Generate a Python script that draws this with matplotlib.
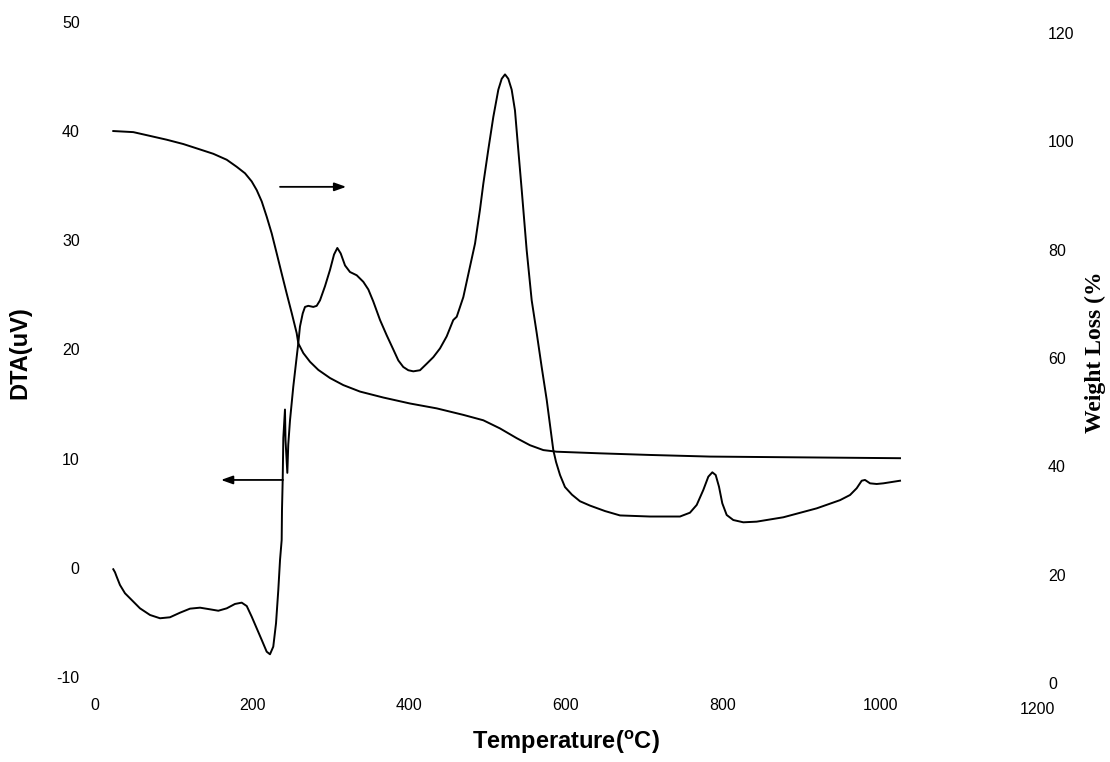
import matplotlib
matplotlib.use("Agg")
import matplotlib.pyplot as plt
import matplotlib.transforms as mtransforms

# ---- data ----
tg_temp = [23.3, 36.1, 48.8, 70.1, 91.3, 112.5, 133.8, 150.7, 167.8, 180.5, 191.1,
           199.6, 206.0, 212.4, 218.7, 225.1, 231.5, 237.8, 244.2, 250.6, 256.9,
           259.0, 265.4, 273.9, 284.5, 299.4, 316.3, 337.6, 367.3, 401.3, 435.3,
           469.2, 494.7, 515.9, 537.2, 554.1, 571.1, 588.1, 643.3, 707.0, 783.4,
           1025.5]
tg_weight = [101.9, 101.8, 101.7, 101.0, 100.3, 99.5, 98.5, 97.7, 96.6, 95.3, 94.1,
             92.6, 91.0, 88.9, 86.1, 83.0, 79.3, 75.6, 71.9, 68.3, 64.6,
             62.7, 60.9, 59.3, 57.8, 56.3, 55.0, 53.8, 52.7, 51.6, 50.7,
             49.5, 48.5, 47.0, 45.2, 43.9, 43.0, 42.7, 42.4, 42.1, 41.8,
             41.5]

dta_temp = [23.3, 25.5, 27.6, 31.8, 38.2, 46.8, 57.3, 70.1, 82.8, 95.5, 108.3,
            121.0, 133.8, 146.5, 157.1, 167.8, 178.3, 186.9, 193.3, 199.6, 206.0,
            212.4, 218.7, 222.9, 227.1, 230.6, 233.5, 235.7, 237.8, 238.2, 239.1,
            239.9, 242.0, 242.7, 245.0, 246.2, 248.4, 252.6, 256.9, 259.0, 261.1,
            264.6, 267.5, 271.7, 278.1, 282.4, 286.6, 293.0, 299.4, 304.5, 308.7,
            313.0, 318.5, 324.8, 333.4, 341.8, 348.2, 354.5, 363.1, 371.6, 380.0,
            386.4, 392.7, 399.1, 405.5, 414.0, 422.6, 431.0, 439.5, 448.0, 456.4,
            460.8, 469.2, 477.7, 484.1, 490.4, 494.7, 501.0, 507.4, 513.8, 518.1,
            522.3, 526.5, 530.8, 535.0, 539.2, 543.6, 549.9, 556.3, 562.7, 569.0,
            575.4, 579.6, 583.8, 587.3, 592.4, 598.7, 607.6, 617.8, 630.6, 649.7,
            668.8, 707.0, 745.2, 757.9, 766.5, 774.9, 781.3, 786.4, 790.7, 794.9,
            799.1, 804.7, 813.1, 825.9, 842.9, 876.8, 919.4, 949.1, 961.8, 970.3,
            976.7, 980.9, 987.3, 995.8, 1004.2, 1025.5]
dta_signal = [-0.13, -0.41, -0.81, -1.57, -2.33, -2.95, -3.71, -4.32, -4.62, -4.53, -4.11,
              -3.74, -3.65, -3.80, -3.93, -3.71, -3.31, -3.19, -3.50, -4.47, -5.54,
              -6.61, -7.68, -7.92, -7.22, -5.08, -2.03, 0.72, 2.55, 5.3, 8.05,
              11.9, 14.5, 11.7, 8.7, 11.3, 13.5, 16.6, 19.3, 20.6, 22.1,
              23.3, 23.9, 24.0, 23.9, 24.0, 24.5, 25.8, 27.3, 28.7, 29.3,
              28.8, 27.7, 27.1, 26.8, 26.2, 25.5, 24.4, 22.7, 21.3, 20.0,
              19.0, 18.4, 18.1, 18.0, 18.1, 18.7, 19.3, 20.1, 21.2, 22.7,
              23.0, 24.8, 27.6, 29.7, 32.8, 35.2, 38.3, 41.3, 43.8, 44.8,
              45.2, 44.8, 43.8, 41.9, 38.3, 34.6, 29.1, 24.5, 21.5, 18.4,
              15.4, 13.1, 10.8, 9.7, 8.5, 7.4, 6.7, 6.1, 5.7, 5.2,
              4.8, 4.7, 4.7, 5.05, 5.76, 7.13, 8.35, 8.75, 8.50, 7.43,
              5.91, 4.84, 4.38, 4.17, 4.23, 4.63, 5.45, 6.2, 6.67, 7.29,
              7.98, 8.05, 7.74, 7.68, 7.74, 7.98]

x_ticks = [0, 200, 400, 600, 800, 1000]
left_ticks = [-10, 0, 10, 20, 30, 40, 50]
right_ticks = [0, 20, 40, 60, 80, 100, 120]

W, H = 1110, 762
fig = plt.figure(figsize=(W / 100, H / 100), dpi=100)
ax = fig.add_axes([95 / W, 1 - 683 / H, (1037 - 95) / W, (683 - 22) / H])
ax2 = ax.twinx()

sans = "Liberation Sans"
serif = "Liberation Serif"

ax.plot(dta_temp, dta_signal, color="black", lw=1.4, solid_joinstyle="round")
ax2.plot(tg_temp, tg_weight, color="black", lw=1.4, solid_joinstyle="round")

ax.set_xlim(0, 1200)
ax.set_ylim(-10.55, 50)
ax2.set_ylim(0, 122.03)

for a in (ax, ax2):
    for s in a.spines.values():
        s.set_visible(False)
    a.set_facecolor("none")

ax.set_xticks(x_ticks)
ax.set_xticklabels([str(t) for t in x_ticks], fontfamily=sans, fontsize=11.5)
ax.set_yticks(left_ticks)
ax.set_yticklabels([str(t) for t in left_ticks], fontfamily=sans, fontsize=11.5)
ax2.set_yticks(right_ticks)
ax2.set_yticklabels([str(t) for t in right_ticks], fontfamily=sans, fontsize=11.5)
ax.tick_params(axis="x", length=0, pad=11)
ax.tick_params(axis="y", length=0, pad=11)
ax2.tick_params(axis="y", length=0, pad=8)

# extra "1200" label slightly lower, as in the reference
trans = mtransforms.blended_transform_factory(ax.transData, ax.transAxes)
ax.annotate("1200", xy=(1200, 0), xycoords=trans, xytext=(0, -19),
            textcoords="offset points", ha="center", va="center",
            fontfamily=sans, fontsize=11.5)

ax.set_xlabel("Temperature($\\mathregular{^{o}}$C)", fontfamily=sans,
              fontsize=17, fontweight="bold", labelpad=11)
ax.set_ylabel("DTA(uV)", fontfamily=sans, fontsize=17, fontweight="bold",
              labelpad=18)
ax2.set_ylabel("Weight Loss (%", fontfamily=serif, fontsize=17,
               fontweight="bold", labelpad=7)

# arrows indicating which axis each curve belongs to
arrow_right = ((235.7, 34.9), (320.0, 34.9))
arrow_left = ((239.5, 8.05), (160.5, 8.05))
for start, end in (arrow_right, arrow_left):
    ax.annotate("", xy=end, xytext=start,
                arrowprops=dict(arrowstyle="-|>,head_length=0.7,head_width=0.25",
                                color="black", lw=1.3, shrinkA=0, shrinkB=0))

fig.savefig("out.png", dpi=100)
